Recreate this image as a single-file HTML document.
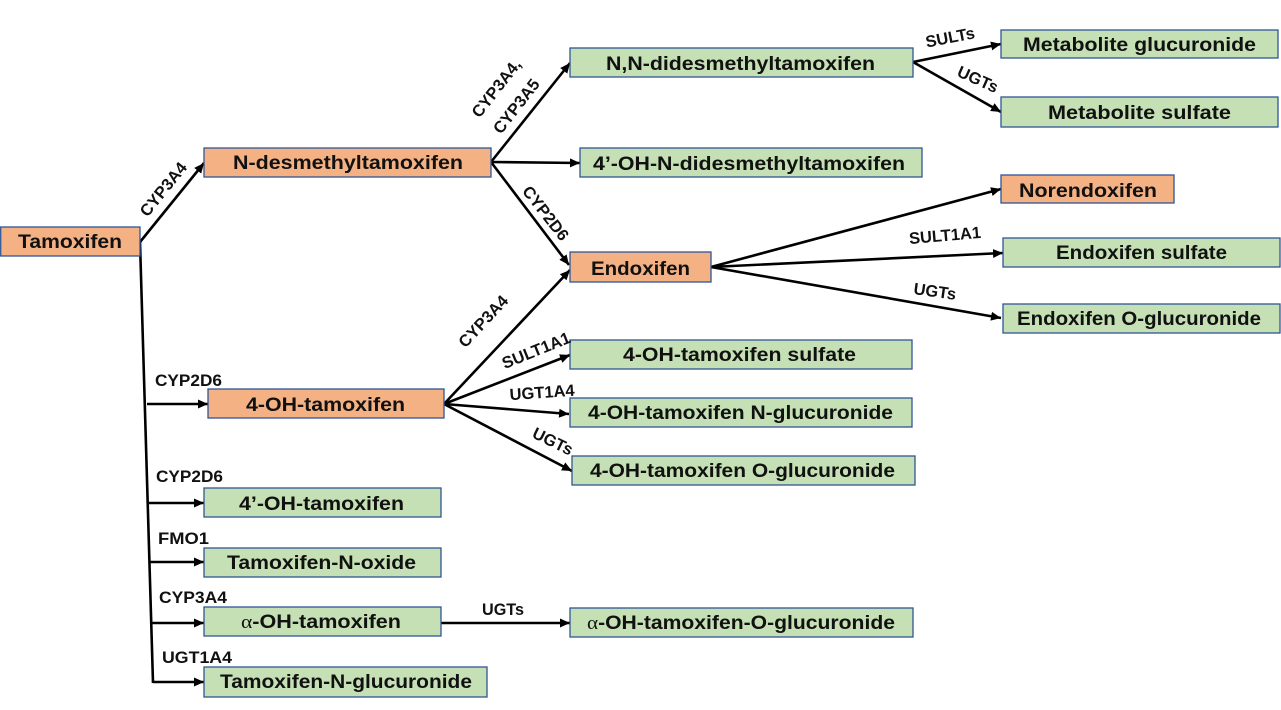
<!DOCTYPE html>
<html><head><meta charset="utf-8"><style>
html,body{margin:0;padding:0;background:#fff;}
svg{display:block;}
.b{font-family:"Liberation Sans",sans-serif;font-weight:bold;font-size:19px;fill:#111;}
.l{font-family:"Liberation Sans",sans-serif;font-weight:bold;font-size:16.5px;fill:#111;}
.o{fill:#F4B183;stroke:#2F5597;stroke-width:1.3;}
.g{fill:#C5E0B4;stroke:#2F5597;stroke-width:1.3;}
.ln{stroke:#000;stroke-width:2.6;fill:none;}
</style></head><body>
<svg width="1281" height="710" viewBox="0 0 1281 710" xmlns="http://www.w3.org/2000/svg">
<defs>
<marker id="a" markerUnits="userSpaceOnUse" markerWidth="11" markerHeight="9" refX="10" refY="4.5" orient="auto">
<path d="M0,0 L10,4.5 L0,9 z" fill="#000"/>
</marker>
</defs>

<!-- connectors -->
<line class="ln" x1="140" y1="242" x2="204" y2="163" marker-end="url(#a)"/>
<line class="ln" x1="140" y1="242" x2="153" y2="683"/>
<line class="ln" x1="147" y1="404" x2="208" y2="404" marker-end="url(#a)"/>
<line class="ln" x1="149" y1="503" x2="204" y2="503" marker-end="url(#a)"/>
<line class="ln" x1="150" y1="562" x2="204" y2="562" marker-end="url(#a)"/>
<line class="ln" x1="152" y1="623" x2="204" y2="623" marker-end="url(#a)"/>
<line class="ln" x1="153" y1="682" x2="204" y2="682" marker-end="url(#a)"/>
<line class="ln" x1="441" y1="623" x2="570" y2="623" marker-end="url(#a)"/>

<line class="ln" x1="491" y1="162" x2="570" y2="63" marker-end="url(#a)"/>
<line class="ln" x1="491" y1="162" x2="580" y2="163" marker-end="url(#a)"/>
<line class="ln" x1="491" y1="162" x2="569" y2="265" marker-end="url(#a)"/>

<line class="ln" x1="444" y1="404" x2="570" y2="270" marker-end="url(#a)"/>
<line class="ln" x1="444" y1="404" x2="570" y2="355" marker-end="url(#a)"/>
<line class="ln" x1="444" y1="404" x2="569" y2="414" marker-end="url(#a)"/>
<line class="ln" x1="444" y1="404" x2="572" y2="471" marker-end="url(#a)"/>

<line class="ln" x1="711" y1="267" x2="1001" y2="189" marker-end="url(#a)"/>
<line class="ln" x1="711" y1="267" x2="1003" y2="253" marker-end="url(#a)"/>
<line class="ln" x1="711" y1="267" x2="1001" y2="318" marker-end="url(#a)"/>

<line class="ln" x1="913" y1="62" x2="1001" y2="44" marker-end="url(#a)"/>
<line class="ln" x1="913" y1="62" x2="1001" y2="112" marker-end="url(#a)"/>

<!-- boxes -->
<rect class="o" x="0.7" y="227" width="139.3" height="29"/>
<text class="b" x="18" y="248" textLength="104" lengthAdjust="spacingAndGlyphs">Tamoxifen</text>

<rect class="o" x="204" y="148" width="287" height="29"/>
<text class="b" x="233" y="169" textLength="230" lengthAdjust="spacingAndGlyphs">N-desmethyltamoxifen</text>

<rect class="g" x="570" y="48" width="343" height="29"/>
<text class="b" x="606" y="70" textLength="269" lengthAdjust="spacingAndGlyphs">N,N-didesmethyltamoxifen</text>

<rect class="g" x="580" y="148" width="342" height="29"/>
<text class="b" x="593" y="170" textLength="312" lengthAdjust="spacingAndGlyphs">4’-OH-N-didesmethyltamoxifen</text>

<rect class="o" x="570" y="252" width="141" height="30"/>
<text class="b" x="591" y="275" textLength="99" lengthAdjust="spacingAndGlyphs">Endoxifen</text>

<rect class="g" x="1001" y="30" width="277" height="28"/>
<text class="b" x="1023" y="51" textLength="233" lengthAdjust="spacingAndGlyphs">Metabolite glucuronide</text>

<rect class="g" x="1001" y="97" width="277" height="30"/>
<text class="b" x="1048" y="119" textLength="183" lengthAdjust="spacingAndGlyphs">Metabolite sulfate</text>

<rect class="o" x="1001" y="175" width="173" height="28"/>
<text class="b" x="1019" y="197" textLength="138" lengthAdjust="spacingAndGlyphs">Norendoxifen</text>

<rect class="g" x="1003" y="238" width="277" height="29"/>
<text class="b" x="1056" y="259" textLength="171" lengthAdjust="spacingAndGlyphs">Endoxifen sulfate</text>

<rect class="g" x="1003" y="304" width="277" height="29"/>
<text class="b" x="1017" y="325" textLength="244" lengthAdjust="spacingAndGlyphs">Endoxifen O-glucuronide</text>

<rect class="o" x="208" y="389" width="236" height="29"/>
<text class="b" x="246" y="411" textLength="159" lengthAdjust="spacingAndGlyphs">4-OH-tamoxifen</text>

<rect class="g" x="570" y="340" width="342" height="29"/>
<text class="b" x="623" y="361" textLength="233" lengthAdjust="spacingAndGlyphs">4-OH-tamoxifen sulfate</text>

<rect class="g" x="570" y="398" width="342" height="29"/>
<text class="b" x="588" y="419" textLength="305" lengthAdjust="spacingAndGlyphs">4-OH-tamoxifen N-glucuronide</text>

<rect class="g" x="572" y="456" width="343" height="29"/>
<text class="b" x="590" y="477" textLength="305" lengthAdjust="spacingAndGlyphs">4-OH-tamoxifen O-glucuronide</text>

<rect class="g" x="204" y="488" width="237" height="29"/>
<text class="b" x="239" y="510" textLength="165" lengthAdjust="spacingAndGlyphs">4’-OH-tamoxifen</text>

<rect class="g" x="204" y="548" width="237" height="29"/>
<text class="b" x="227" y="569" textLength="189" lengthAdjust="spacingAndGlyphs">Tamoxifen-N-oxide</text>

<rect class="g" x="204" y="607" width="237" height="29"/>
<text class="b" x="241" y="628" textLength="160" lengthAdjust="spacingAndGlyphs"><tspan font-family="Liberation Serif, serif" font-weight="normal">α</tspan>-OH-tamoxifen</text>

<rect class="g" x="204" y="667" width="283" height="30"/>
<text class="b" x="220" y="688" textLength="252" lengthAdjust="spacingAndGlyphs">Tamoxifen-N-glucuronide</text>

<rect class="g" x="570" y="608" width="343" height="29"/>
<text class="b" x="587" y="629" textLength="308" lengthAdjust="spacingAndGlyphs"><tspan font-family="Liberation Serif, serif" font-weight="normal">α</tspan>-OH-tamoxifen-O-glucuronide</text>

<!-- horizontal labels -->
<text class="l" x="155" y="386" textLength="67" lengthAdjust="spacingAndGlyphs">CYP2D6</text>
<text class="l" x="156" y="482" textLength="67" lengthAdjust="spacingAndGlyphs">CYP2D6</text>
<text class="l" x="158" y="544" textLength="51" lengthAdjust="spacingAndGlyphs">FMO1</text>
<text class="l" x="159" y="603" textLength="68" lengthAdjust="spacingAndGlyphs">CYP3A4</text>
<text class="l" x="162" y="663" textLength="70" lengthAdjust="spacingAndGlyphs">UGT1A4</text>
<text class="l" x="482" y="615" textLength="42" lengthAdjust="spacingAndGlyphs">UGTs</text>

<!-- rotated labels -->
<g transform="translate(163,189) rotate(-51)"><text class="l" x="0" y="6" text-anchor="middle">CYP3A4</text></g>
<g transform="translate(496,88) rotate(-52)"><text class="l" x="0" y="6" text-anchor="middle">CYP3A4,</text></g>
<g transform="translate(516,106) rotate(-52)"><text class="l" x="0" y="6" text-anchor="middle">CYP3A5</text></g>
<g transform="translate(546,213) rotate(52)"><text class="l" x="0" y="6" text-anchor="middle">CYP2D6</text></g>
<g transform="translate(483,321) rotate(-47)"><text class="l" x="0" y="6" text-anchor="middle">CYP3A4</text></g>
<g transform="translate(536,350) rotate(-22)"><text class="l" x="0" y="6" text-anchor="middle">SULT1A1</text></g>
<g transform="translate(542,392) rotate(-4)"><text class="l" x="0" y="6" text-anchor="middle">UGT1A4</text></g>
<g transform="translate(553,441) rotate(26)"><text class="l" x="0" y="6" text-anchor="middle">UGTs</text></g>
<g transform="translate(950,37) rotate(-11)"><text class="l" x="0" y="6" text-anchor="middle">SULTs</text></g>
<g transform="translate(978,79) rotate(24)"><text class="l" x="0" y="6" text-anchor="middle">UGTs</text></g>
<g transform="translate(945,235) rotate(-5)"><text class="l" x="0" y="6" text-anchor="middle">SULT1A1</text></g>
<g transform="translate(935,291) rotate(8)"><text class="l" x="0" y="6" text-anchor="middle">UGTs</text></g>
</svg>
</body></html>
